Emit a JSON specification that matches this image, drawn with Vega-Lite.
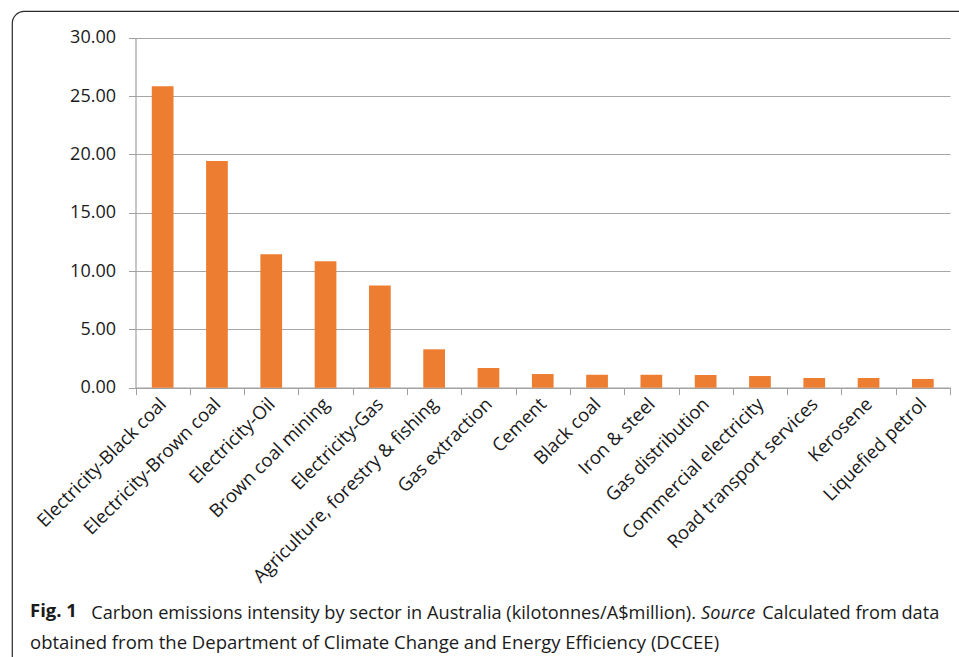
{
  "$schema": "https://vega.github.io/schema/vega-lite/v6.json",
  "width": 960,
  "height": 660,
  "autosize": "none",
  "padding": {"left": 12, "top": 11, "right": 0, "bottom": 0},
  "background": "white",
  "config": {
    "view": {"stroke": "#2a2a2a", "strokeWidth": 1.2, "cornerRadius": 12},
    "axis": {"labelFont": "Open Sans", "titleFont": "Open Sans", "labelColor": "#1a1a1a", "titleColor": "#1a1a1a"},
    "title": {"font": "Open Sans", "subtitleFont": "Open Sans"}
  },
  "title": {
    "text": "Fig. 1",
    "subtitle": "obtained from the Department of Climate Change and Energy Efficiency (DCCEE)",
    "orient": "top",
    "anchor": "start",
    "frame": "group",
    "offset": 0,
    "dx": 18,
    "dy": 656,
    "baseline": "alphabetic",
    "fontSize": 18.5,
    "fontWeight": "bold",
    "color": "#1a1a1a",
    "subtitleFontSize": 18.5,
    "subtitleColor": "#1a1a1a",
    "subtitlePadding": 13
  },
  "data": {
    "values": [
      {"sector": "Electricity-Black coal", "intensity": 25.83},
      {"sector": "Electricity-Brown coal", "intensity": 19.43},
      {"sector": "Electricity-Oil", "intensity": 11.43},
      {"sector": "Brown coal mining", "intensity": 10.83},
      {"sector": "Electricity-Gas", "intensity": 8.77},
      {"sector": "Agriculture, forestry & fishing", "intensity": 3.29},
      {"sector": "Gas extraction", "intensity": 1.69},
      {"sector": "Cement", "intensity": 1.17},
      {"sector": "Black coal", "intensity": 1.11},
      {"sector": "Iron & steel", "intensity": 1.11},
      {"sector": "Gas distribution", "intensity": 1.09},
      {"sector": "Commercial electricity", "intensity": 1.0},
      {"sector": "Road transport services", "intensity": 0.83},
      {"sector": "Kerosene", "intensity": 0.83},
      {"sector": "Liquefied petrol", "intensity": 0.75}
    ]
  },
  "mark": {"type": "bar", "color": "#ED7D31", "width": {"band": 0.4}},
  "encoding": {
    "x": {
      "field": "sector",
      "type": "nominal",
      "sort": null,
      "scale": {"range": [123.5, 938], "paddingInner": 0, "paddingOuter": 0},
      "axis": {
        "orient": "bottom",
        "offset": -283.3,
        "tickBand": "extent",
        "labelAngle": -45,
        "labelAlign": "right",
        "labelBaseline": "middle",
        "labelFontSize": 18.5,
        "labelPadding": 6,
        "labelLimit": 400,
        "tickSize": 7,
        "tickColor": "#a0a0a0",
        "domainColor": "#a0a0a0",
        "domainWidth": 1.2,
        "grid": false,
        "title": "Carbon emissions intensity by sector in Australia (kilotonnes/A$million).\u00a0\u00a0\u00a0\u00a0\u00a0\u00a0\u00a0\u00a0\u00a0\u00a0\u00a0\u00a0\u00a0\u00a0Calculated from data",
        "titleX": 78.7,
        "titleY": 230.8,
        "titleAlign": "left",
        "titleAnchor": "start",
        "titleBaseline": "alphabetic",
        "titleFontSize": 18.2,
        "titleFontWeight": "normal"
      }
    },
    "y": {
      "field": "intensity",
      "type": "quantitative",
      "scale": {"domain": [0, 30], "range": [376.7, 26.7], "nice": false, "zero": true},
      "axis": {
        "orient": "left",
        "offset": -123.5,
        "values": [0, 5, 10, 15, 20, 25, 30],
        "format": ".2f",
        "labelFontSize": 18,
        "labelPadding": 13,
        "tickSize": 7,
        "tickColor": "#a0a0a0",
        "domainColor": "#a0a0a0",
        "domainWidth": 1.2,
        "grid": true,
        "gridColor": "#a6a6a6",
        "gridWidth": 1.2,
        "title": "Source",
        "titleAngle": 0,
        "titleX": 565,
        "titleY": 607.5,
        "titleAlign": "left",
        "titleAnchor": "start",
        "titleBaseline": "alphabetic",
        "titleFontSize": 18.2,
        "titleFontWeight": "normal",
        "titleFontStyle": "italic"
      }
    }
  }
}
